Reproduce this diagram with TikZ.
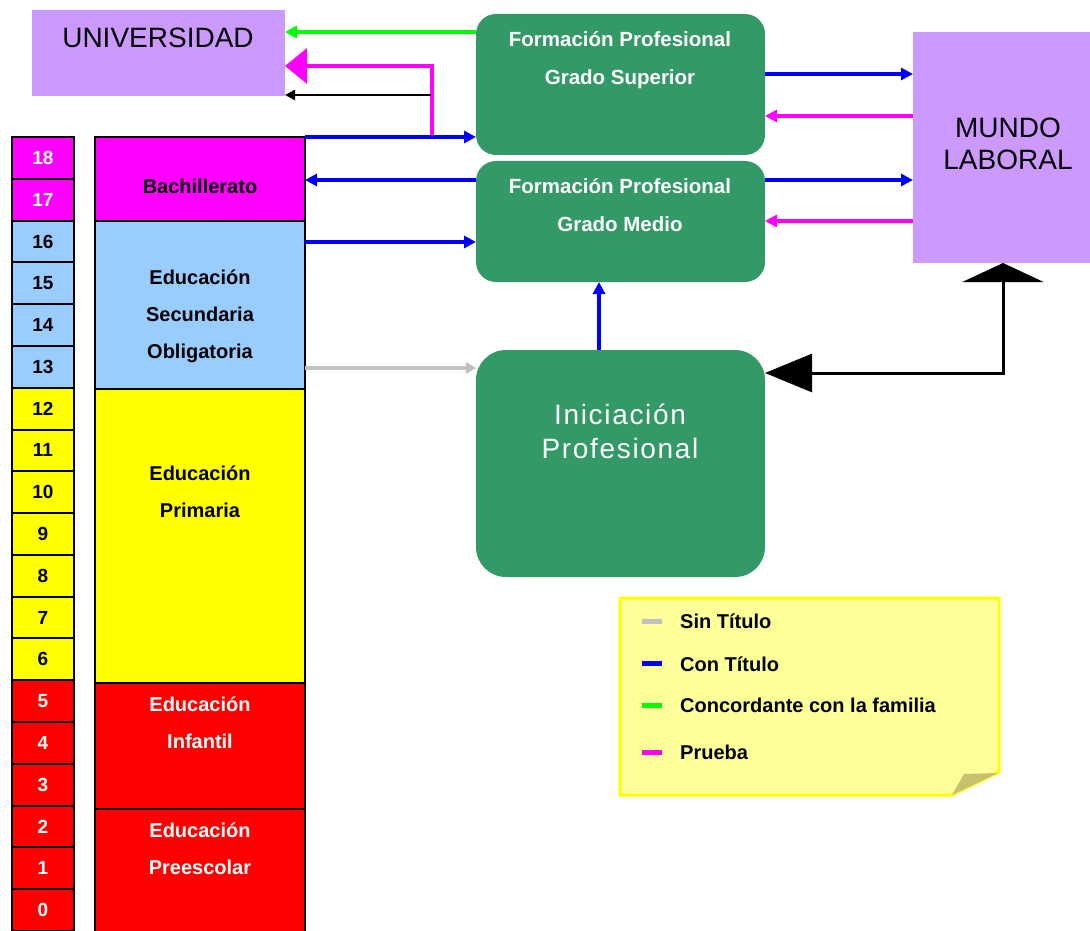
\documentclass[tikz,border=0pt]{standalone}
\usepackage{fontspec}
\setmainfont{Liberation Sans}
\usetikzlibrary{arrows.meta}
\definecolor{lav}{HTML}{CC99FF}
\definecolor{fpg}{HTML}{339966}
\definecolor{mag}{HTML}{FF00FF}
\definecolor{esob}{HTML}{99CCFF}
\definecolor{yel}{HTML}{FFFF00}
\definecolor{redc}{HTML}{FF0000}
\definecolor{blu}{HTML}{0000FF}
\definecolor{grn}{HTML}{00FF00}
\definecolor{gry}{HTML}{C0C0C0}
\definecolor{notefill}{HTML}{FFFF99}
\definecolor{notefold}{HTML}{C8C070}
\tikzset{
  blockbox/.style={inner sep=0pt, outer sep=0pt, anchor=north west},
  lavbox/.style={blockbox, fill=lav},
  fpbox/.style={blockbox, fill=fpg, rounded corners=20pt},
  agecell/.style={blockbox, draw=black, line width=2pt, minimum width=62pt, minimum height=41.79pt,
     font=\fontsize{19}{21}\selectfont\bfseries},
  stagebox/.style={blockbox, draw=black, line width=2pt, minimum width=210pt},
  stagetext/.style={align=center, inner sep=0pt, font=\fontsize{20}{37}\selectfont\bfseries},
  fptext/.style={align=center, inner sep=0pt, text=white, font=\fontsize{20.5}{38}\selectfont\bfseries},
  bigtext/.style={align=center, inner sep=0pt, font=\fontsize{28}{32}\selectfont},
  legtext/.style={anchor=west, inner sep=0pt, font=\fontsize{20}{24}\selectfont\bfseries},
  conn/.style={line width=3.5pt},
  smalltip/.style={-{Triangle[length=12pt,width=12pt]}},
  bluearrow/.style={conn, blu, smalltip},
  magarrow/.style={conn, mag, smalltip},
  swatch/.style={line width=5pt},
}
\begin{document}
\begin{tikzpicture}[x=1pt,y=-1pt]
\useasboundingbox (0,0) rectangle (1090,931);

% main boxes
\node[lavbox, minimum width=253pt, minimum height=86pt] (univ) at (32,10) {};
\node[bigtext] (univt) at (158,38) {UNIVERSIDAD};
\node[lavbox, minimum width=180pt, minimum height=231pt] (mundo) at (913,32) {};
\node[bigtext] (mundot) at (1008,144) {MUNDO\\LABORAL};

\node[fpbox, minimum width=289pt, minimum height=141pt] (fps) at (476,14) {};
\node[fptext] (fpst) at (620,60) {Formación Profesional\\Grado Superior};
\node[fpbox, minimum width=289pt, minimum height=121pt] (fpm) at (476,161) {};
\node[fptext] (fpmt) at (620,205) {Formación Profesional\\Grado Medio};
\node[fpbox, rounded corners=30pt, minimum width=289pt, minimum height=227pt] (ini) at (476,350) {};
\node[align=center, inner sep=0pt, text=white,
  font=\fontsize{28}{34}\selectfont\addfontfeature{LetterSpace=6}] (init) at (620,431) {Iniciación\\Profesional};

% age column
\foreach \a in {0,...,18}{
  \pgfmathsetmacro\yt{137+(18-\a)*41.79}
  \ifnum\a>16 \def\agefill{mag}\def\agetext{white}\else
  \ifnum\a>12 \def\agefill{esob}\def\agetext{black}\else
  \ifnum\a>5 \def\agefill{yel}\def\agetext{black}\else
  \def\agefill{redc}\def\agetext{white}\fi\fi\fi
  \node[agecell, fill=\agefill, text=\agetext] (age\a) at (12,\yt) {\a};
}

% stage column
\node[stagebox, fill=mag, minimum height=84pt] (bach) at (95,137) {};
\node[stagetext] (bacht) at (200,186) {Bachillerato};
\node[stagebox, fill=esob, minimum height=168pt] (eso) at (95,221) {};
\node[stagetext] (esot) at (200,316) {Educación\\Secundaria\\Obligatoria};
\node[stagebox, fill=yel, minimum height=294pt] (prim) at (95,389) {};
\node[stagetext] (primt) at (200,492) {Educación\\Primaria};
\node[stagebox, fill=redc, minimum height=126pt] (inf) at (95,683) {};
\node[stagetext, text=white] (inft) at (200,723) {Educación\\Infantil};
\node[stagebox, fill=redc, minimum height=140pt] (pre) at (95,809) {};
\node[stagetext, text=white] (pret) at (200,849) {Educación\\Preescolar};

% arrows to Universidad
\draw[conn, grn, smalltip] (fps.west |- 0,32) -- (univ.east |- 0,32);
\coordinate (mstart) at (432,137);
\draw[conn, mag, -{Triangle[length=22pt,width=35pt]}] (mstart) -- (432,66) -- (univ.east |- 0,66);
\coordinate (bstart) at (431,95);
\draw[line width=2.2pt, black, -{Triangle[length=10pt,width=10pt]}] (bstart) -- (univ.east |- 0,95);

% arrows from stages to FP
\draw[bluearrow] (bach.north east) -- (fps.west |- 0,137);
\draw[bluearrow] (fpm.west |- 0,180) -- (bach.east |- 0,180);
\draw[bluearrow] (eso.east |- 0,242) -- (fpm.west |- 0,242);
\draw[conn, gry, -{Triangle[length=10pt,width=11pt]}] (eso.east |- 0,368) -- (ini.west |- 0,368);
\draw[bluearrow] (ini.north -| 599,0) -- (fpm.south -| 599,0);

% FP <-> Mundo laboral
\draw[bluearrow] (fps.east |- 0,74) -- (mundo.west |- 0,74);
\draw[magarrow] (mundo.west |- 0,116) -- (fps.east |- 0,116);
\draw[bluearrow] (fpm.east |- 0,180) -- (mundo.west |- 0,180);
\draw[magarrow] (mundo.west |- 0,221) -- (fpm.east |- 0,221);

% Iniciacion <-> Mundo laboral
\draw[line width=3pt, black, {Triangle[length=47pt,width=38pt]}-{Triangle[length=19pt,width=81pt]}]
  (ini.east |- 0,373) -| (mundo.south -| 1003,0);

% legend note
\draw[yel, line width=3pt, fill=notefill] (620,598) -- (999,598) -- (999,772) -- (952,795) -- (620,795) -- cycle;
\fill[notefold] (952,795) -- (964,774) -- (998,773) -- cycle;
\draw[swatch, gry] (642,621) -- (662,621);
\node[legtext] (l1) at (680,621) {Sin Título};
\draw[swatch, blu] (642,663) -- (662,663);
\node[legtext] (l2) at (680,664) {Con Título};
\draw[swatch, grn] (642,705) -- (662,705);
\node[legtext] (l3) at (680,705) {Concordante con la familia};
\draw[swatch, mag] (642,752) -- (662,752);
\node[legtext] (l4) at (680,752) {Prueba};
\end{tikzpicture}
\end{document}
